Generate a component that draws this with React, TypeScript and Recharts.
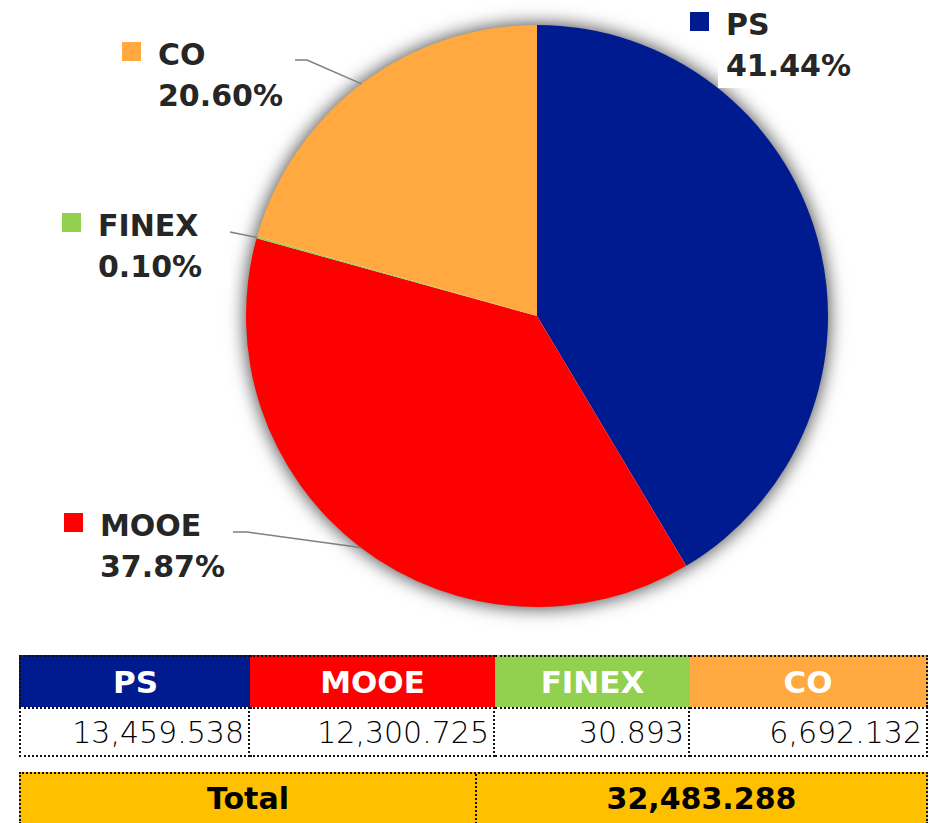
import { PieChart, Pie, Cell } from "recharts";

const CATEGORIES = ["PS", "MOOE", "FINEX", "CO"];
const AMOUNTS = [13459.538, 12300.725, 30.893, 6692.132];
const COLORS = ["#001A8F", "#FF0000", "#92D050", "#FFA940"];

const TOTAL_COLOR = "#FFC000";
const TEXT = "#262626";
const FONT = "'DejaVu Sans', sans-serif";

const TOTAL = AMOUNTS.reduce((a, b) => a + b, 0);

const data = CATEGORIES.map((name, i) => ({ name, value: AMOUNTS[i] }));
const shadowData = [{ name: "all", value: TOTAL }];

// label placement: square top-left, plus leader line end + elbow
const LABEL_SPOT: Record<string, { x: number; y: number; line: number[][] | null }> = {
  PS: { x: 690, y: 12, line: null },
  MOOE: { x: 64, y: 513, line: [[233, 532], [247, 532]] },
  FINEX: { x: 62, y: 213, line: [[215, 231], [225, 231]] },
  CO: { x: 122, y: 42, line: [[295, 60], [307, 60]] },
};

function fmt(v: number) {
  return v.toLocaleString("en-US", { minimumFractionDigits: 3, maximumFractionDigits: 3 });
}

function SliceLabel(props: any) {
  const { cx, cy, midAngle, outerRadius, index } = props;
  const name = CATEGORIES[index];
  const spot = LABEL_SPOT[name];
  const RAD = Math.PI / 180;
  const ex = cx + outerRadius * Math.cos(-midAngle * RAD);
  const ey = cy + outerRadius * Math.sin(-midAngle * RAD);
  const pct = ((AMOUNTS[index] / TOTAL) * 100).toFixed(2) + "%";
  const tx = spot.x + 36;
  return (
    <g>
      {spot.line && (
        <polyline
          points={`${spot.line[0][0]},${spot.line[0][1]} ${spot.line[1][0]},${spot.line[1][1]} ${ex},${ey}`}
          fill="none"
          stroke="#7F7F7F"
          strokeWidth={1.5}
        />
      )}
      <rect x={spot.x + 28} y={spot.y - 12} width={140} height={88} fill="#fff" />
      <rect x={spot.x} y={spot.y} width={19} height={19} fill={COLORS[index]} />
      <text x={tx} y={spot.y + 23} fill={TEXT} fontSize={30} fontWeight={700} fontFamily={FONT}>
        {name}
      </text>
      <text x={tx} y={spot.y + 64} fill={TEXT} fontSize={30} fontWeight={700} fontFamily={FONT}>
        {pct}
      </text>
    </g>
  );
}

const COL_W = [231, 245, 195, 238];
const DOT = "2px dotted #111";

export default function App() {
  return (
    <div style={{ position: "absolute", left: 0, top: 0, width: 948, height: 823, background: "#fff", overflow: "hidden" }}>
      <style>{`.pie-shadow{filter:drop-shadow(0 0 9px rgba(0,0,0,0.45));}`}</style>
      <PieChart width={948} height={640} margin={{ top: 0, right: 0, bottom: 0, left: 0 }}>
        {/* backing disc that only carries the soft shadow */}
        <Pie
          className="pie-shadow"
          data={shadowData}
          dataKey="value"
          cx={537}
          cy={316}
          outerRadius={290}
          startAngle={90}
          endAngle={-270}
          stroke="none"
          fill="#ffffff"
          isAnimationActive={false}
        />
        <Pie
          data={data}
          dataKey="value"
          nameKey="name"
          cx={537}
          cy={316}
          outerRadius={291}
          startAngle={90}
          endAngle={-270}
          stroke="none"
          labelLine={false}
          label={SliceLabel}
          isAnimationActive={false}
        >
          {data.map((d, i) => (
            <Cell key={d.name} fill={COLORS[i]} />
          ))}
        </Pie>
      </PieChart>

      <div style={{ position: "absolute", left: 19, top: 655, display: "flex", fontFamily: FONT }}>
        {CATEGORIES.map((c, i) => (
          <div key={c} style={{ width: COL_W[i] }}>
            <div
              style={{
                boxSizing: "border-box",
                height: 52,
                background: COLORS[i],
                color: "#fff",
                fontWeight: 700,
                fontSize: 31,
                display: "flex",
                alignItems: "center",
                justifyContent: "center",
                borderTop: DOT,
                borderLeft: i === 0 ? DOT : "none",
                borderRight: i === 3 ? DOT : "none",
              }}
            >
              {c}
            </div>
            <div
              style={{
                boxSizing: "border-box",
                height: 50,
                color: "#000",
                fontWeight: 200,
                fontSize: 30,
                display: "flex",
                alignItems: "center",
                justifyContent: "flex-end",
                paddingRight: 4,
                borderTop: DOT,
                borderBottom: DOT,
                borderLeft: i === 0 ? DOT : "none",
                borderRight: DOT,
              }}
            >
              {fmt(AMOUNTS[i])}
            </div>
          </div>
        ))}
      </div>

      <div
        style={{
          position: "absolute",
          left: 19,
          top: 772,
          width: 909,
          height: 52,
          display: "flex",
          background: TOTAL_COLOR,
          fontFamily: FONT,
          fontWeight: 700,
          fontSize: 30,
          color: "#000",
          boxSizing: "border-box",
          borderTop: DOT,
          borderLeft: DOT,
          borderRight: DOT,
        }}
      >
        <div style={{ width: 454, display: "flex", alignItems: "center", justifyContent: "center", borderRight: DOT, paddingBottom: 2 }}>
          Total
        </div>
        <div style={{ flex: 1, display: "flex", alignItems: "center", justifyContent: "center", paddingBottom: 2 }}>
          {fmt(TOTAL)}
        </div>
      </div>
    </div>
  );
}
